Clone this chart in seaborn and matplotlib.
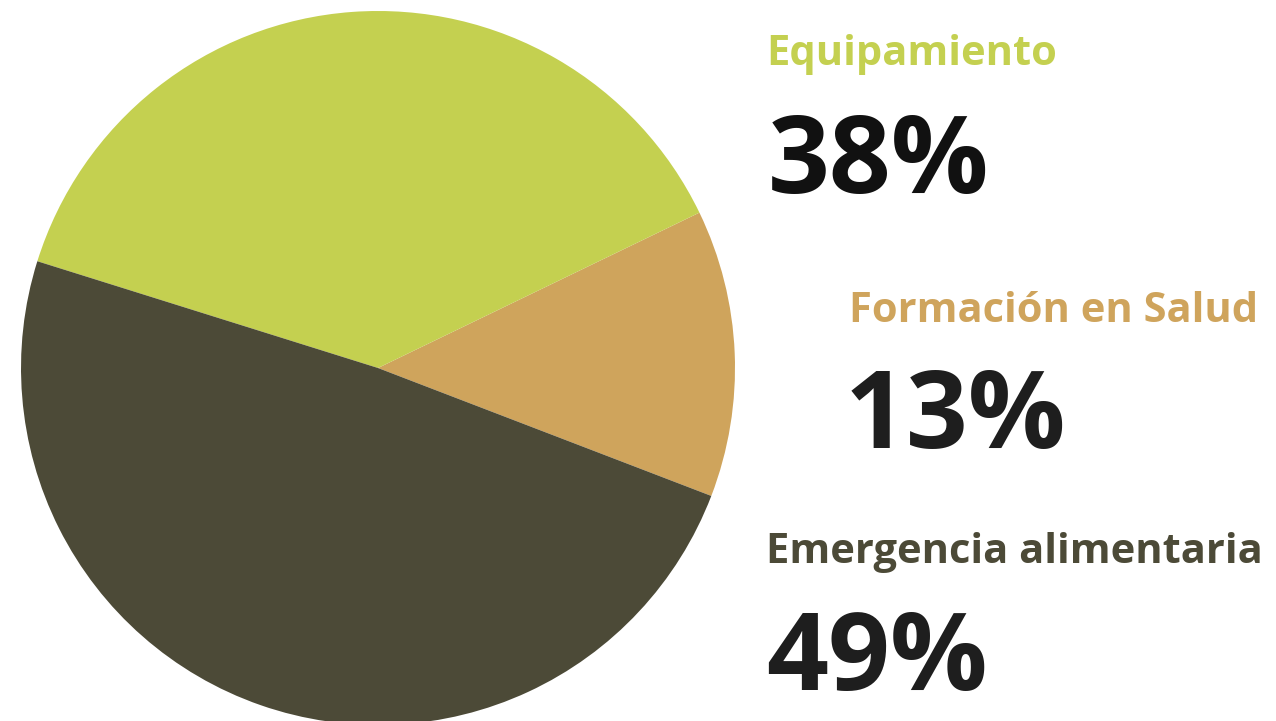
import matplotlib
matplotlib.use("Agg")
import matplotlib.pyplot as plt
import seaborn as sns

sns.set_theme(style="white")
plt.rcParams['font.family'] = ['Open Sans', 'DejaVu Sans']

# datos del reparto
categorias = ['Formación en Salud', 'Equipamiento', 'Emergencia alimentaria']
porcentajes = [13, 38, 49]
colores = ['#CFA45C', '#C4D050', '#4C4A37']

W, H = 1276, 721
fig = plt.figure(figsize=(W / 100, H / 100), dpi=100)
fig.patch.set_facecolor('white')

# eje del pastel: centro (378, 368) px, radio 357 px
cx, cy, r = 378, 368, 357
ax = fig.add_axes([(cx - r) / W, (H - cy - r) / H, 2 * r / W, 2 * r / H])
ax.pie(porcentajes, colors=colores, startangle=-21, counterclock=True,
       wedgeprops=dict(linewidth=0))
ax.set_xlim(-1, 1)
ax.set_ylim(-1, 1)
ax.set_aspect('equal')
ax.axis('off')


def px(x, y):
    return x / W, 1 - y / H


# etiquetas a la derecha (x, baseline) en px
etiquetas = {
    'Equipamiento': (766, 65, 768, 193, '#111111'),
    'Formación en Salud': (849, 322, 845, 448, '#1E1E1E'),
    'Emergencia alimentaria': (766, 563, 766, 690, '#1E1E1E'),
}
for cat, pct, col in zip(categorias, porcentajes, colores):
    lx, ly, nx, ny, ncol = etiquetas[cat]
    fig.text(*px(lx, ly), cat, color=col, fontsize=30, fontweight='bold',
             ha='left', va='baseline')
    fig.text(*px(nx, ny), f'{pct}%', color=ncol, fontsize=78, fontweight='bold',
             ha='left', va='baseline')

fig.savefig('out.png', dpi=100, facecolor='white')
